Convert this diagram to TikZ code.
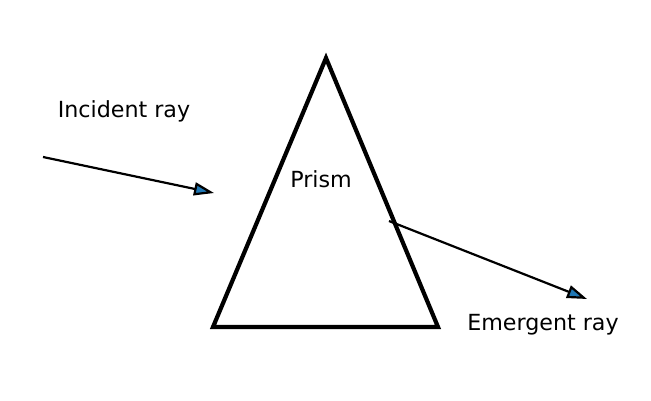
\documentclass[tikz,border=0pt]{standalone}
\usepackage{fontspec}
\setmainfont{DejaVu Sans}
\usetikzlibrary{arrows.meta}
\definecolor{raytip}{RGB}{31,119,180}

\begin{document}
\begin{tikzpicture}[x=1pt, y=-1pt]
        \useasboundingbox (0,0) rectangle (651,401);

        % prism corners
        \coordinate (apex) at (326,58);
        \coordinate (baseL) at (213,327);
        \coordinate (baseR) at (438,327);
        \draw [line width=4.2pt, line join=miter] (apex) -- (baseR) -- (baseL) -- cycle;

        % ray end points
        \coordinate (inStart) at (43,157);
        \coordinate (inEnd) at (214,193);
        \coordinate (outStart) at (389,221);
        \coordinate (outEnd) at (587,299);

        \draw [line width=2.2pt, -{Triangle[length=20pt, width=13pt, fill=raytip]}] (inStart) -- (inEnd);
        \draw [line width=2.2pt, -{Triangle[length=20pt, width=13pt, fill=raytip]}] (outStart) -- (outEnd);

        \node (incident) [anchor=base, inner sep=0pt, font=\fontsize{22.2}{26}\selectfont] at (124,117.5) {Incident ray};
        \node (prism) [anchor=base, inner sep=0pt, font=\fontsize{22.2}{26}\selectfont] at (321,187.5) {Prism};
        \node (emergent) [anchor=base, inner sep=0pt, font=\fontsize{22.2}{26}\selectfont] at (543,330.5) {Emergent ray};

    \end{tikzpicture}
\end{document}
